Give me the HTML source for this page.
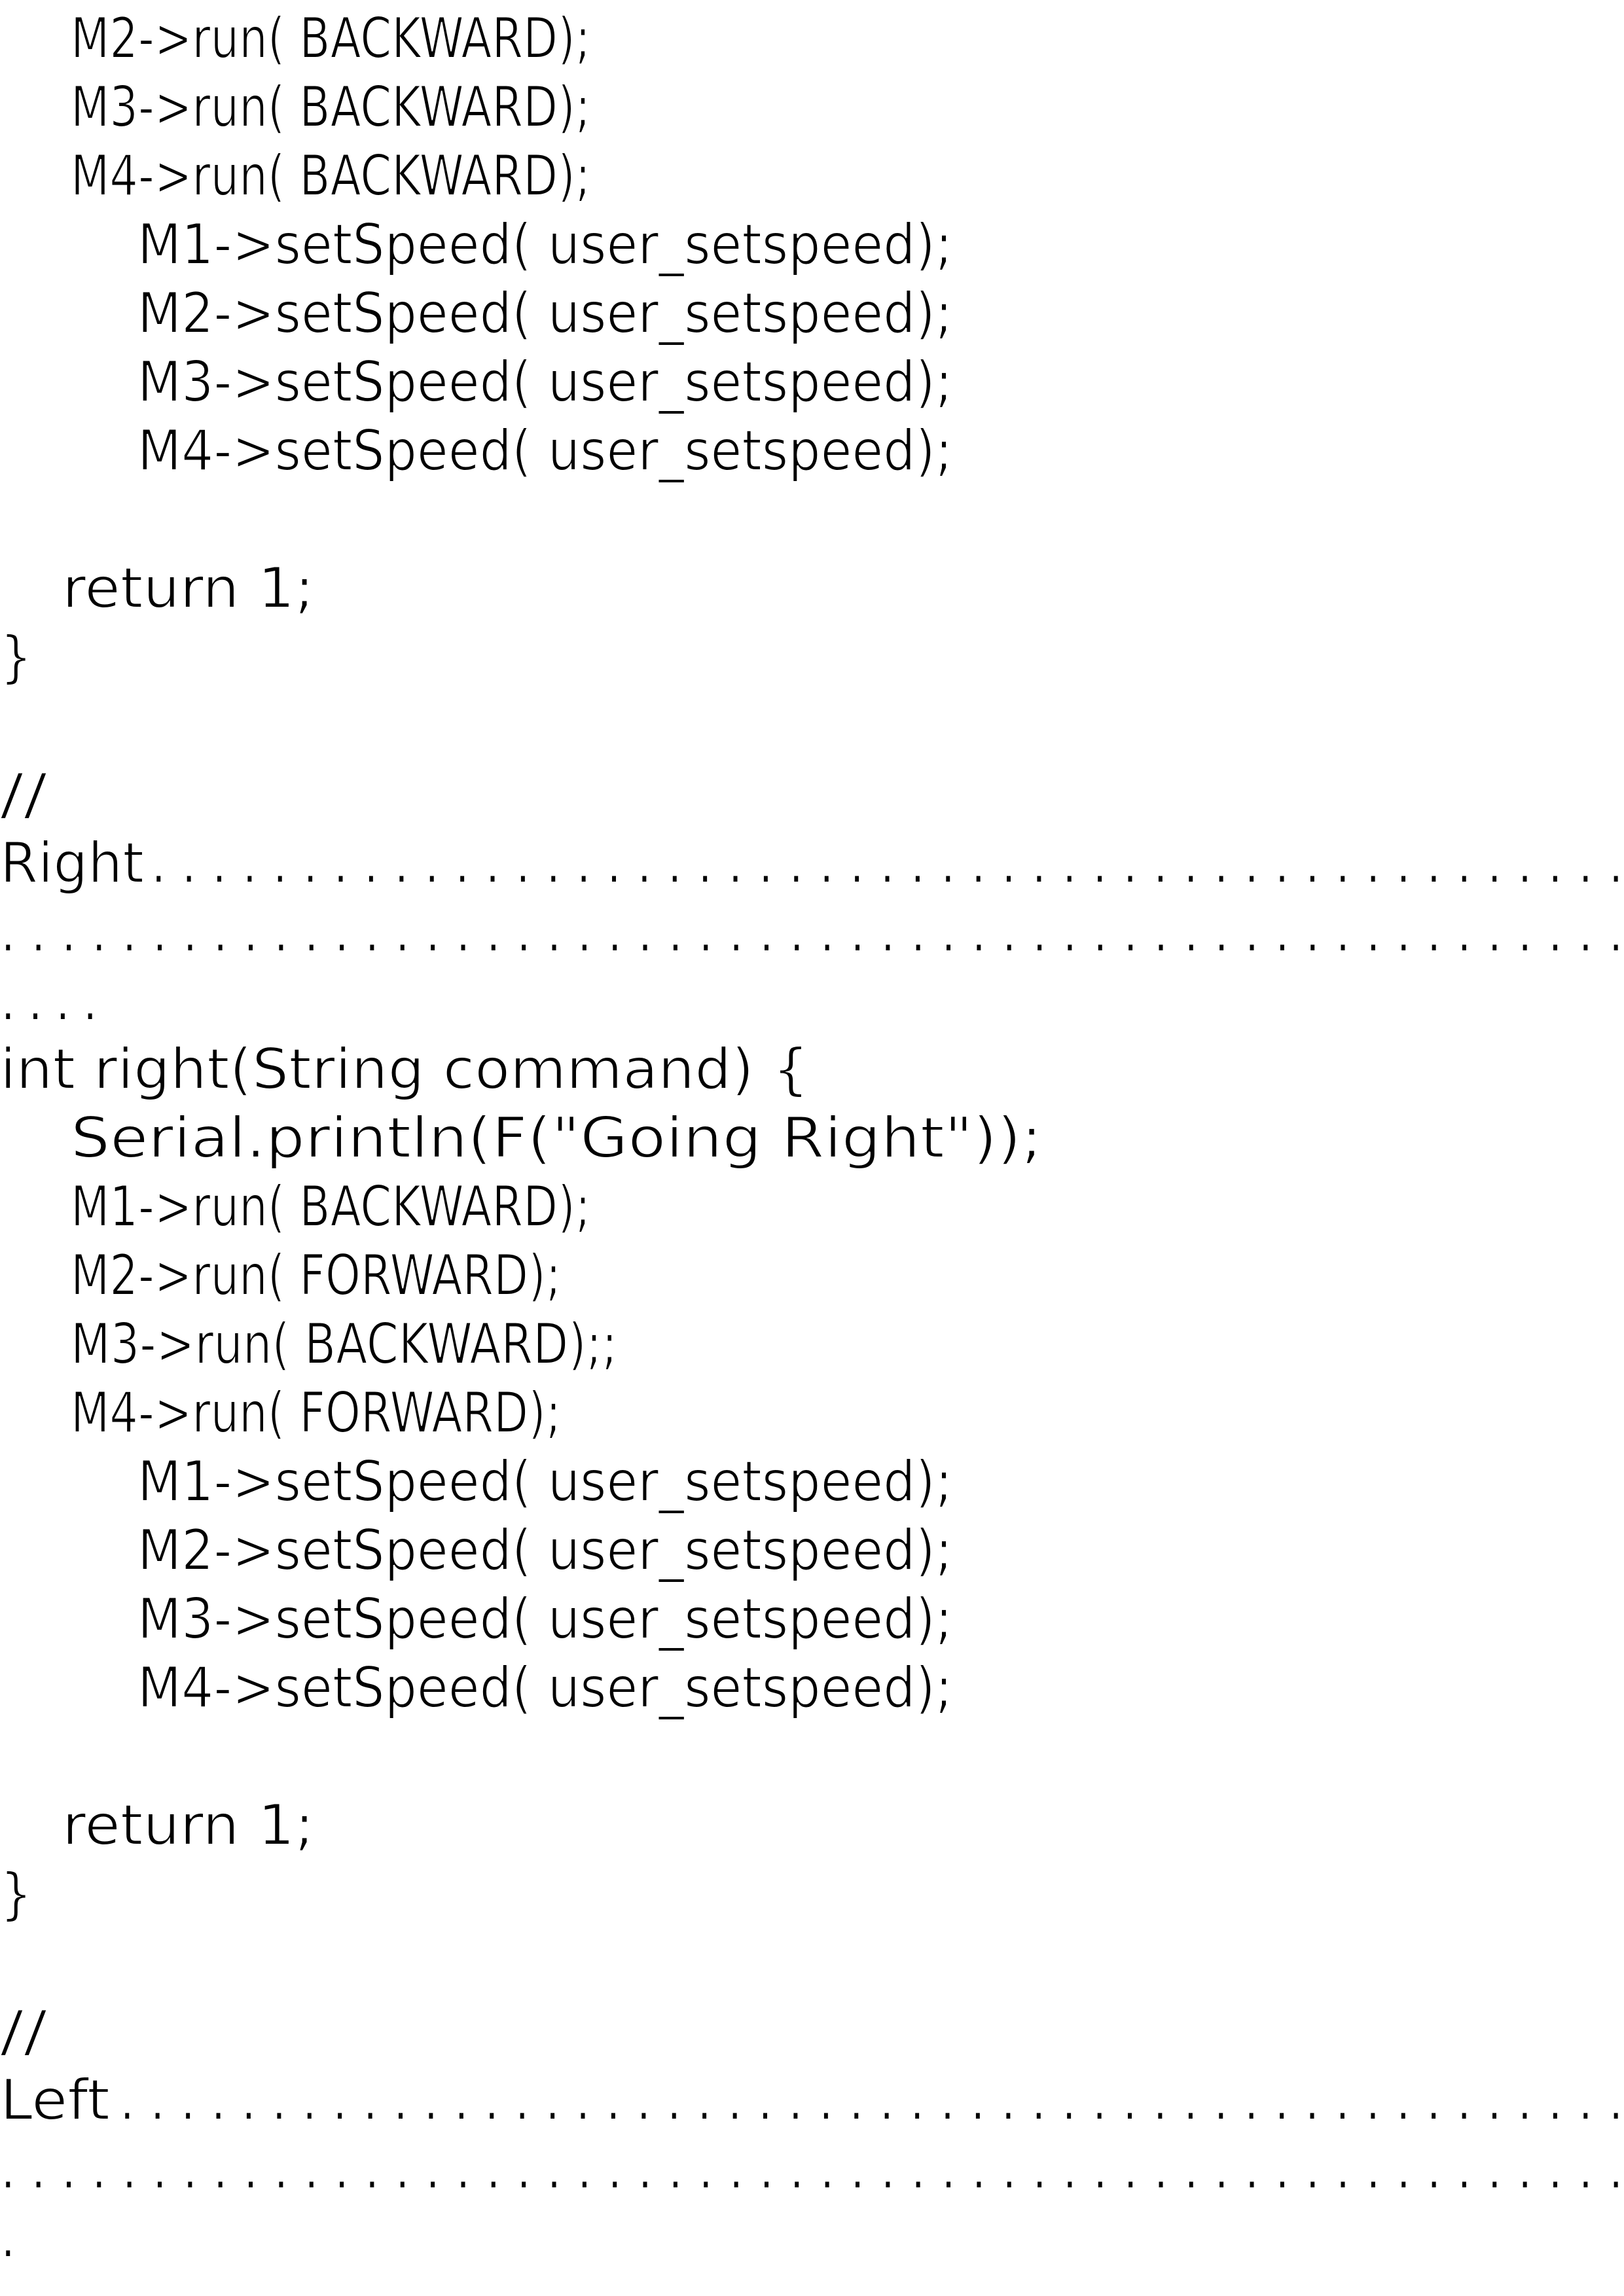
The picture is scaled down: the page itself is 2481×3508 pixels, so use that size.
<!DOCTYPE html>
<html><head><meta charset="utf-8"><style>
html,body{margin:0;padding:0;background:#fff;}
svg{display:block;}
text{font-family:"DejaVu Sans Condensed","DejaVu Sans","Liberation Sans",sans-serif;font-size:86px;fill:#000;stroke:#fff;stroke-width:2px;white-space:pre;}
</style></head><body>
<svg width="2481" height="3508" viewBox="0 0 2481 3508" xmlns="http://www.w3.org/2000/svg">
<rect width="2481" height="3508" fill="#fff"/>
<text x="108" y="88" textLength="794" lengthAdjust="spacingAndGlyphs">M2-&gt;run( BACKWARD);</text>
<text x="108" y="193" textLength="794" lengthAdjust="spacingAndGlyphs">M3-&gt;run( BACKWARD);</text>
<text x="108" y="298" textLength="794" lengthAdjust="spacingAndGlyphs">M4-&gt;run( BACKWARD);</text>
<text x="210" y="403" textLength="1245" lengthAdjust="spacingAndGlyphs">M1-&gt;setSpeed( user_setspeed);</text>
<text x="210" y="508" textLength="1245" lengthAdjust="spacingAndGlyphs">M2-&gt;setSpeed( user_setspeed);</text>
<text x="210" y="613" textLength="1245" lengthAdjust="spacingAndGlyphs">M3-&gt;setSpeed( user_setspeed);</text>
<text x="210" y="718" textLength="1245" lengthAdjust="spacingAndGlyphs">M4-&gt;setSpeed( user_setspeed);</text>
<text x="95" y="928" textLength="385" lengthAdjust="spacingAndGlyphs">return 1;</text>
<text x="0" y="1033">}</text>
<text x="0" y="1243" textLength="72" lengthAdjust="spacingAndGlyphs">//</text>
<text x="0" y="1348" textLength="220" lengthAdjust="spacingAndGlyphs">Right</text>
<text x="230" y="1348" textLength="2251" lengthAdjust="spacing">.................................................</text>
<text x="0" y="1453" textLength="2481" lengthAdjust="spacing">......................................................</text>
<text x="0" y="1558" textLength="150" lengthAdjust="spacing">....</text>
<text x="0" y="1663" textLength="1236" lengthAdjust="spacingAndGlyphs">int right(String command) {</text>
<text x="108" y="1768" textLength="1484" lengthAdjust="spacingAndGlyphs">Serial.println(F("Going Right"));</text>
<text x="108" y="1873" textLength="794" lengthAdjust="spacingAndGlyphs">M1-&gt;run( BACKWARD);</text>
<text x="108" y="1978" textLength="749" lengthAdjust="spacingAndGlyphs">M2-&gt;run( FORWARD);</text>
<text x="108" y="2083" textLength="835" lengthAdjust="spacingAndGlyphs">M3-&gt;run( BACKWARD);;</text>
<text x="108" y="2188" textLength="749" lengthAdjust="spacingAndGlyphs">M4-&gt;run( FORWARD);</text>
<text x="210" y="2293" textLength="1245" lengthAdjust="spacingAndGlyphs">M1-&gt;setSpeed( user_setspeed);</text>
<text x="210" y="2398" textLength="1245" lengthAdjust="spacingAndGlyphs">M2-&gt;setSpeed( user_setspeed);</text>
<text x="210" y="2503" textLength="1245" lengthAdjust="spacingAndGlyphs">M3-&gt;setSpeed( user_setspeed);</text>
<text x="210" y="2608" textLength="1245" lengthAdjust="spacingAndGlyphs">M4-&gt;setSpeed( user_setspeed);</text>
<text x="95" y="2818" textLength="385" lengthAdjust="spacingAndGlyphs">return 1;</text>
<text x="0" y="2923">}</text>
<text x="0" y="3133" textLength="72" lengthAdjust="spacingAndGlyphs">//</text>
<text x="0" y="3238" textLength="168" lengthAdjust="spacingAndGlyphs">Left</text>
<text x="182" y="3238" textLength="2299" lengthAdjust="spacing">..................................................</text>
<text x="0" y="3343" textLength="2481" lengthAdjust="spacing">......................................................</text>
<text x="0" y="3448">.</text>
</svg>
</body></html>
